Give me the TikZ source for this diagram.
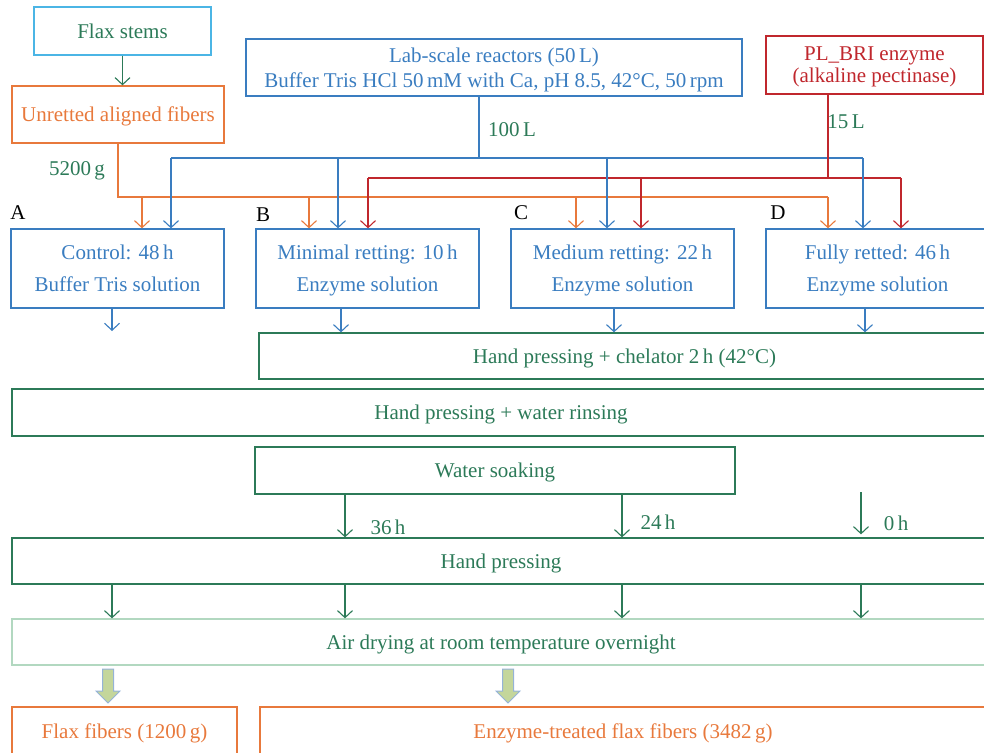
\documentclass[tikz,border=0pt]{standalone}
\usepackage{fontspec}
\setmainfont{Liberation Serif}
\usetikzlibrary{arrows.meta}

\definecolor{stemgreen}{RGB}{44,122,88}
\definecolor{reacblue}{RGB}{58,125,192}
\definecolor{skyblue}{RGB}{75,181,229}
\definecolor{fiberorange}{RGB}{232,121,60}
\definecolor{enzred}{RGB}{192,39,45}
\definecolor{palegreen}{RGB}{178,216,192}
\definecolor{olivefill}{RGB}{196,214,155}
\definecolor{olivedraw}{RGB}{149,179,215}

\begin{document}
\begin{tikzpicture}[x=1pt, y=-1pt,
  font=\fontsize{21}{25}\selectfont,
  box/.style={draw, line width=1.3pt, inner sep=0pt, align=center, text depth=0pt},
  twoline/.style={font=\fontsize{21}{32}\selectfont},
  flow/.style={line width=1.1pt, -{Straight Barb[length=7pt,width=15pt]}},
  feed/.style={line width=1.1pt},
  qty/.style={text=stemgreen}]
  \useasboundingbox (0,0) rectangle (984,752);
  \clip (0,0) rectangle (984,752);

  % ---------------- inputs ----------------
  \node[box, draw=skyblue, text=stemgreen, minimum width=177, minimum height=48] (flax) at (122.5,31) {Flax stems};
  \node[box, draw=fiberorange, text=fiberorange, minimum width=212, minimum height=57] (unret) at (118,114.5) {Unretted aligned fibers};
  \node[box, draw=reacblue, text=reacblue, minimum width=496, minimum height=57] (reac) at (494,67.5)
    {Lab-scale reactors (50\,L)\\Buffer Tris HCl 50\,mM with Ca, pH 8.5, 42°C, 50\,rpm};
  \node[box, draw=enzred, text=enzred, minimum width=217, minimum height=58, font=\fontsize{21}{22}\selectfont] (enz) at (874.5,65)
    {PL\_BRI enzyme\\(alkaline pectinase)};

  \draw[flow, stemgreen] (flax.south) -- (flax.south |- unret.north);

  % ---------------- retting tubs ----------------
  \node[box, twoline, draw=reacblue, text=reacblue, minimum width=213, minimum height=79] (tubA) at (117.5,268.5) {Control: 48\,h\\Buffer Tris solution};
  \node[box, twoline, draw=reacblue, text=reacblue, minimum width=223, minimum height=79] (tubB) at (367.5,268.5) {Minimal retting: 10\,h\\Enzyme solution};
  \node[box, twoline, draw=reacblue, text=reacblue, minimum width=223, minimum height=79] (tubC) at (622.5,268.5) {Medium retting: 22\,h\\Enzyme solution};
  \node[box, twoline, draw=reacblue, text=reacblue, minimum width=223, minimum height=79] (tubD) at (877.5,268.5) {Fully retted: 46\,h\\Enzyme solution};
  \node (labA) at (18,213) {A};
  \node (labB) at (263,215) {B};
  \node (labC) at (521,213) {C};
  \node (labD) at (778,213) {D};

  % orange: fibers
  \coordinate (oA) at (142,197);
  \coordinate (oB) at (309,197);
  \coordinate (oC) at (576,197);
  \coordinate (oD) at (828,197);
  \draw[feed, fiberorange] (unret.south) |- (oD);
  \node[qty] (gfib) at (77,171) {5200\,g};

  % blue: buffer
  \coordinate (bA) at (171,158);
  \coordinate (bB) at (338,158);
  \coordinate (bC) at (607,158);
  \coordinate (bD) at (863,158);
  \draw[feed, reacblue] ([xshift=-15pt]reac.south) -- ([xshift=-15pt]reac.south |- bA);
  \draw[feed, reacblue] (bA) -- (bD);
  \node[qty] (lbuf) at (512,130) {100\,L};

  % red: enzyme
  \coordinate (rB) at (368,178);
  \coordinate (rC) at (641,178);
  \coordinate (rD) at (901,178);
  \draw[feed, enzred] ([xshift=-46.5pt]enz.south) -- ([xshift=-46.5pt]enz.south |- rB);
  \draw[feed, enzred] (rB) -- (rD);
  \node[qty] (lenz) at (846,122) {15\,L};

  \foreach \p/\t in {oA/tubA, oB/tubB, oC/tubC, oD/tubD}
    \draw[flow, fiberorange] (\p) -- (\p |- \t.north);
  \foreach \p/\t in {bA/tubA, bB/tubB, bC/tubC, bD/tubD}
    \draw[flow, reacblue] (\p) -- (\p |- \t.north);
  \foreach \p/\t in {rB/tubB, rC/tubC, rD/tubD}
    \draw[flow, enzred] (\p) -- (\p |- \t.north);

  % ---------------- washing ----------------
  \node[box, draw=stemgreen, text=stemgreen, minimum width=731, minimum height=46] (chel) at (624.5,356) {Hand pressing + chelator 2\,h (42°C)};
  \node[box, draw=stemgreen, text=stemgreen, minimum width=978, minimum height=47] (rinse) at (501,412.5) {Hand pressing + water rinsing};
  \node[box, draw=stemgreen, text=stemgreen, minimum width=480, minimum height=47] (soak) at (495,470.5) {Water soaking};
  \node[box, draw=stemgreen, text=stemgreen, minimum width=978, minimum height=46] (press) at (501,561) {Hand pressing};
  \node[box, draw=palegreen, text=stemgreen, minimum width=978, minimum height=46] (air) at (501,642) {Air drying at room temperature overnight};

  \coordinate (aEnd) at (112,331);
  \draw[flow, reacblue] (tubA.south -| aEnd) -- (aEnd);
  \foreach \x/\t in {341/tubB, 614/tubC, 865/tubD}
    \draw[flow, reacblue] (\t.south -| \x,0) -- (chel.north -| \x,0);

  \coordinate (zStart) at (861,492);
  \draw[flow, stemgreen] (soak.south -| 345,0) -- (press.north -| 345,0);
  \draw[flow, stemgreen] (soak.south -| 622,0) -- (press.north -| 622,0);
  \draw[flow, stemgreen] (zStart) -- ([yshift=3pt]press.north -| zStart);
  \node[qty] (h36) at (388,527) {36\,h};
  \node[qty] (h24) at (658,522) {24\,h};
  \node[qty] (h0) at (896,523) {0\,h};

  \foreach \x in {112,345,622,861}
    \draw[flow, stemgreen] (press.south -| \x,0) -- (air.north -| \x,0);

  % ---------------- products ----------------
  \node[box, draw=fiberorange, text=fiberorange, minimum width=225, minimum height=48] (flaxfib) at (124.5,731) {Flax fibers (1200\,g)};
  \node[box, draw=fiberorange, text=fiberorange, minimum width=726, minimum height=48] (enzfib) at (623,731) {Enzyme-treated flax fibers (3482\,g)};

  \foreach \x in {108,508}
    \draw[fill=olivefill, draw=olivedraw, line width=1pt, line join=miter]
      (\x-5.5,669) -- (\x+5.5,669) -- (\x+5.5,691) -- (\x+12,691) -- (\x,703)
      -- (\x-12,691) -- (\x-5.5,691) -- cycle;
\end{tikzpicture}
\end{document}
